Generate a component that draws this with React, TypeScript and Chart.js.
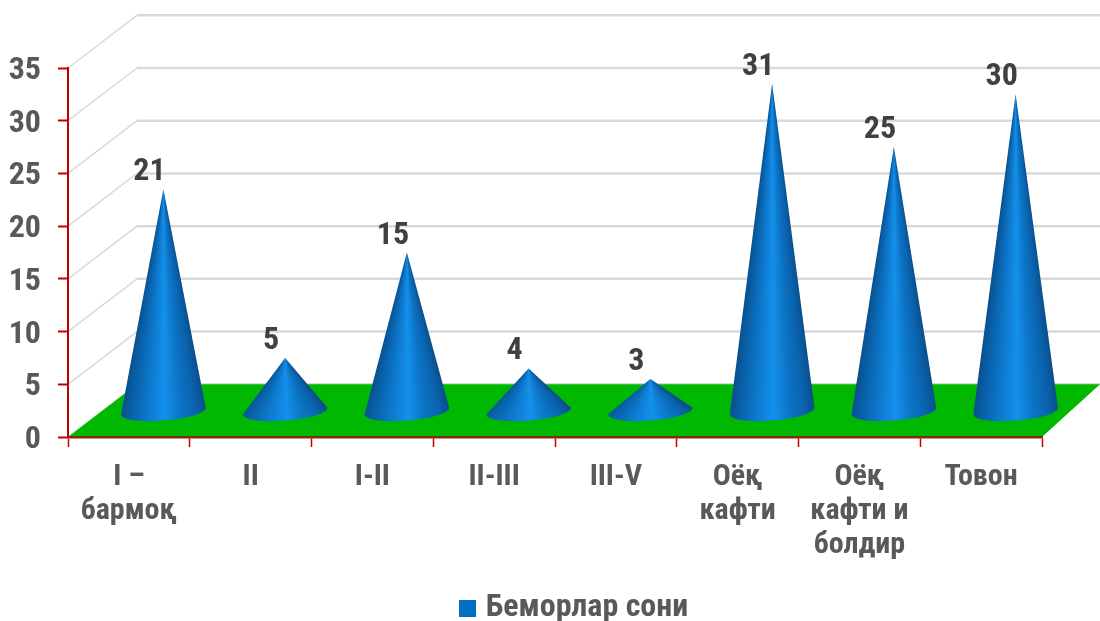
import React, { useEffect, useRef } from "react";
import { Chart, registerables } from "chart.js";

Chart.register(...registerables);

const categories: string[][] = [
  ["I –", "бармоқ"],
  ["II"],
  ["I-II"],
  ["II-III"],
  ["III-V"],
  ["Оёқ", "кафти"],
  ["Оёқ", "кафти и", "болдир"],
  ["Товон"],
];
const patientCounts = [21, 5, 15, 4, 3, 31, 25, 30];
const seriesName = "Беморлар сони";

const FONT_FAMILY = '"Roboto Condensed", Roboto, sans-serif';
const TEXT_GREY = "#595959";
const LABEL_GREY = "#404040";
const AXIS_RED = "#C00000";
const WALL_GREY = "#D9D9D9";
const FLOOR_GREEN = "#00B800";
const SERIES_BLUE = "#0070C0";

// Horizontal shift of the receding depth axis, in pixels.
const DEPTH_X = 69;

// Shades a cone with a fan of rays from its apex, so the highlight narrows towards the tip.
function coneShade(ctx: CanvasRenderingContext2D, ax: number, ay: number, cx: number, by: number, r: number) {
  const angleAt = (x: number) => Math.atan2(by - ay, x - ax);
  const start = angleAt(cx + r);
  const end = angleAt(cx - r);
  const g = ctx.createConicGradient(start, ax, ay);
  const stops: [number, string][] = [
    [0, "#0B4F8C"],
    [0.12, "#0A62AD"],
    [0.3, "#0C74C6"],
    [0.48, "#1490EA"],
    [0.65, "#0E7CD2"],
    [0.88, "#0860A8"],
    [1, "#0A4E8A"],
  ];
  const turn = (end - start) / (2 * Math.PI);
  for (const [f, c] of stops) {
    const a = angleAt(cx + r - 2 * r * f);
    g.addColorStop(Math.min(1, Math.max(0, (a - start) / (2 * Math.PI))), c);
  }
  g.addColorStop(Math.min(1, turn + 0.001), "#0A4E8A");
  return g;
}

const sceneryPlugin = {
  id: "scenery",
  beforeDraw(chart: any) {
    const { ctx, scales } = chart;
    const x = scales.x;
    const y = scales.y;
    const depthY = y.getPixelForValue(0) - y.getPixelForValue(5);
    ctx.save();
    ctx.strokeStyle = WALL_GREY;
    for (const tick of y.ticks) {
      const py = y.getPixelForValue(tick.value);
      ctx.lineWidth = 1.5;
      ctx.beginPath();
      ctx.moveTo(x.left, py);
      ctx.lineTo(x.left + DEPTH_X, py - depthY);
      ctx.stroke();
      ctx.lineWidth = 2.5;
      ctx.beginPath();
      ctx.moveTo(x.left + DEPTH_X, py - depthY);
      ctx.lineTo(chart.width, py - depthY);
      ctx.stroke();
    }
    // Floor of the 3D box.
    const base = y.getPixelForValue(0);
    ctx.fillStyle = FLOOR_GREEN;
    ctx.beginPath();
    ctx.moveTo(x.left, base);
    ctx.lineTo(x.right, base);
    ctx.lineTo(chart.width, base - depthY);
    ctx.lineTo(x.left + DEPTH_X, base - depthY);
    ctx.closePath();
    ctx.fill();
    ctx.restore();
  },
  afterLayout(chart: any) {
    // The legend sits right of the page centre, close to the bottom edge.
    chart.legend.left += 56;
    chart.legend.right += 56;
    chart.legend.top += 13;
    chart.legend.bottom += 13;
  },
};

const conePlugin = {
  id: "cones",
  beforeDatasetDraw(chart: any, args: any) {
    const { ctx, scales } = chart;
    const y = scales.y;
    const depthY = y.getPixelForValue(0) - y.getPixelForValue(5);
    const bars = args.meta.data;
    const values: number[] = chart.data.datasets[args.index].data;
    const tilt = -0.082;
    bars.forEach((bar: any, i: number) => {
      const cx = bar.x + DEPTH_X / 2;
      const r = 42.5;
      const apexX = cx;
      const apexY = bar.y - depthY / 2;
      const baseY = bar.base - depthY / 2;
      const leftX = cx - r * Math.cos(tilt);
      const leftY = baseY + 1 - r * Math.sin(tilt);
      ctx.save();
      ctx.beginPath();
      ctx.moveTo(apexX, apexY);
      ctx.lineTo(leftX, leftY);
      ctx.ellipse(cx, baseY + 1, r, 9.5, tilt, Math.PI, 0, true);
      ctx.closePath();
      ctx.fillStyle = coneShade(ctx, apexX, apexY, cx, baseY, r);
      ctx.fill();
      ctx.restore();

      ctx.save();
      ctx.fillStyle = LABEL_GREY;
      ctx.font = `bold 32px ${FONT_FAMILY}`;
      ctx.textAlign = "center";
      ctx.textBaseline = "middle";
      ctx.fillText(String(values[i]), cx - 14, apexY - 17);
      ctx.restore();
    });
    return false;
  },
};

function legendSwatch() {
  const c = document.createElement("canvas");
  c.width = 17;
  c.height = 17;
  const g = c.getContext("2d")!;
  g.fillStyle = SERIES_BLUE;
  g.fillRect(0, 0, 17, 17);
  return c;
}

export default function App() {
  const ref = useRef<HTMLCanvasElement>(null);

  useEffect(() => {
    const chart = new Chart(ref.current!, {
      type: "bar",
      data: {
        labels: categories,
        datasets: [{ label: seriesName, data: patientCounts, backgroundColor: SERIES_BLUE }],
      },
      plugins: [sceneryPlugin, conePlugin],
      options: {
        responsive: false,
        animation: false,
        layout: { autoPadding: false, padding: { top: 68, right: 58, left: 0, bottom: 0 } },
        plugins: {
          title: { display: false },
          tooltip: { enabled: false },
          legend: {
            position: "bottom",
            labels: {
              color: TEXT_GREY,
              font: { family: FONT_FAMILY, size: 32, weight: "bold" },
              padding: 0,
              usePointStyle: true,
              pointStyle: legendSwatch(),
              pointStyleWidth: 4,
              boxHeight: 17,
            },
          },
        },
        scales: {
          x: {
            afterFit: (s: any) => {
              s.height = 142;
            },
            border: { color: "#8A2A05", width: 2.5 },
            grid: { drawOnChartArea: false, tickColor: AXIS_RED, tickLength: 10, tickWidth: 1.5 },
            ticks: {
              color: TEXT_GREY,
              font: { family: FONT_FAMILY, size: 30, weight: "bold", lineHeight: 1.13 },
              padding: 14,
              maxRotation: 0,
              autoSkip: false,
            },
          },
          y: {
            min: 0,
            max: 35,
            afterFit: (s: any) => {
              s.width = 68;
            },
            border: { color: AXIS_RED, width: 2 },
            grid: { drawOnChartArea: false, tickColor: AXIS_RED, tickLength: 10, tickWidth: 2 },
            ticks: {
              stepSize: 5,
              color: TEXT_GREY,
              padding: 17,
              labelOffset: 3,
              font: { family: FONT_FAMILY, size: 32, weight: "bold" },
            },
          },
        },
      },
    } as any);
    return () => chart.destroy();
  }, []);

  return (
    <canvas
      ref={ref}
      width={1100}
      height={621}
      style={{ position: "absolute", left: 0, top: 0, display: "block" }}
    />
  );
}
